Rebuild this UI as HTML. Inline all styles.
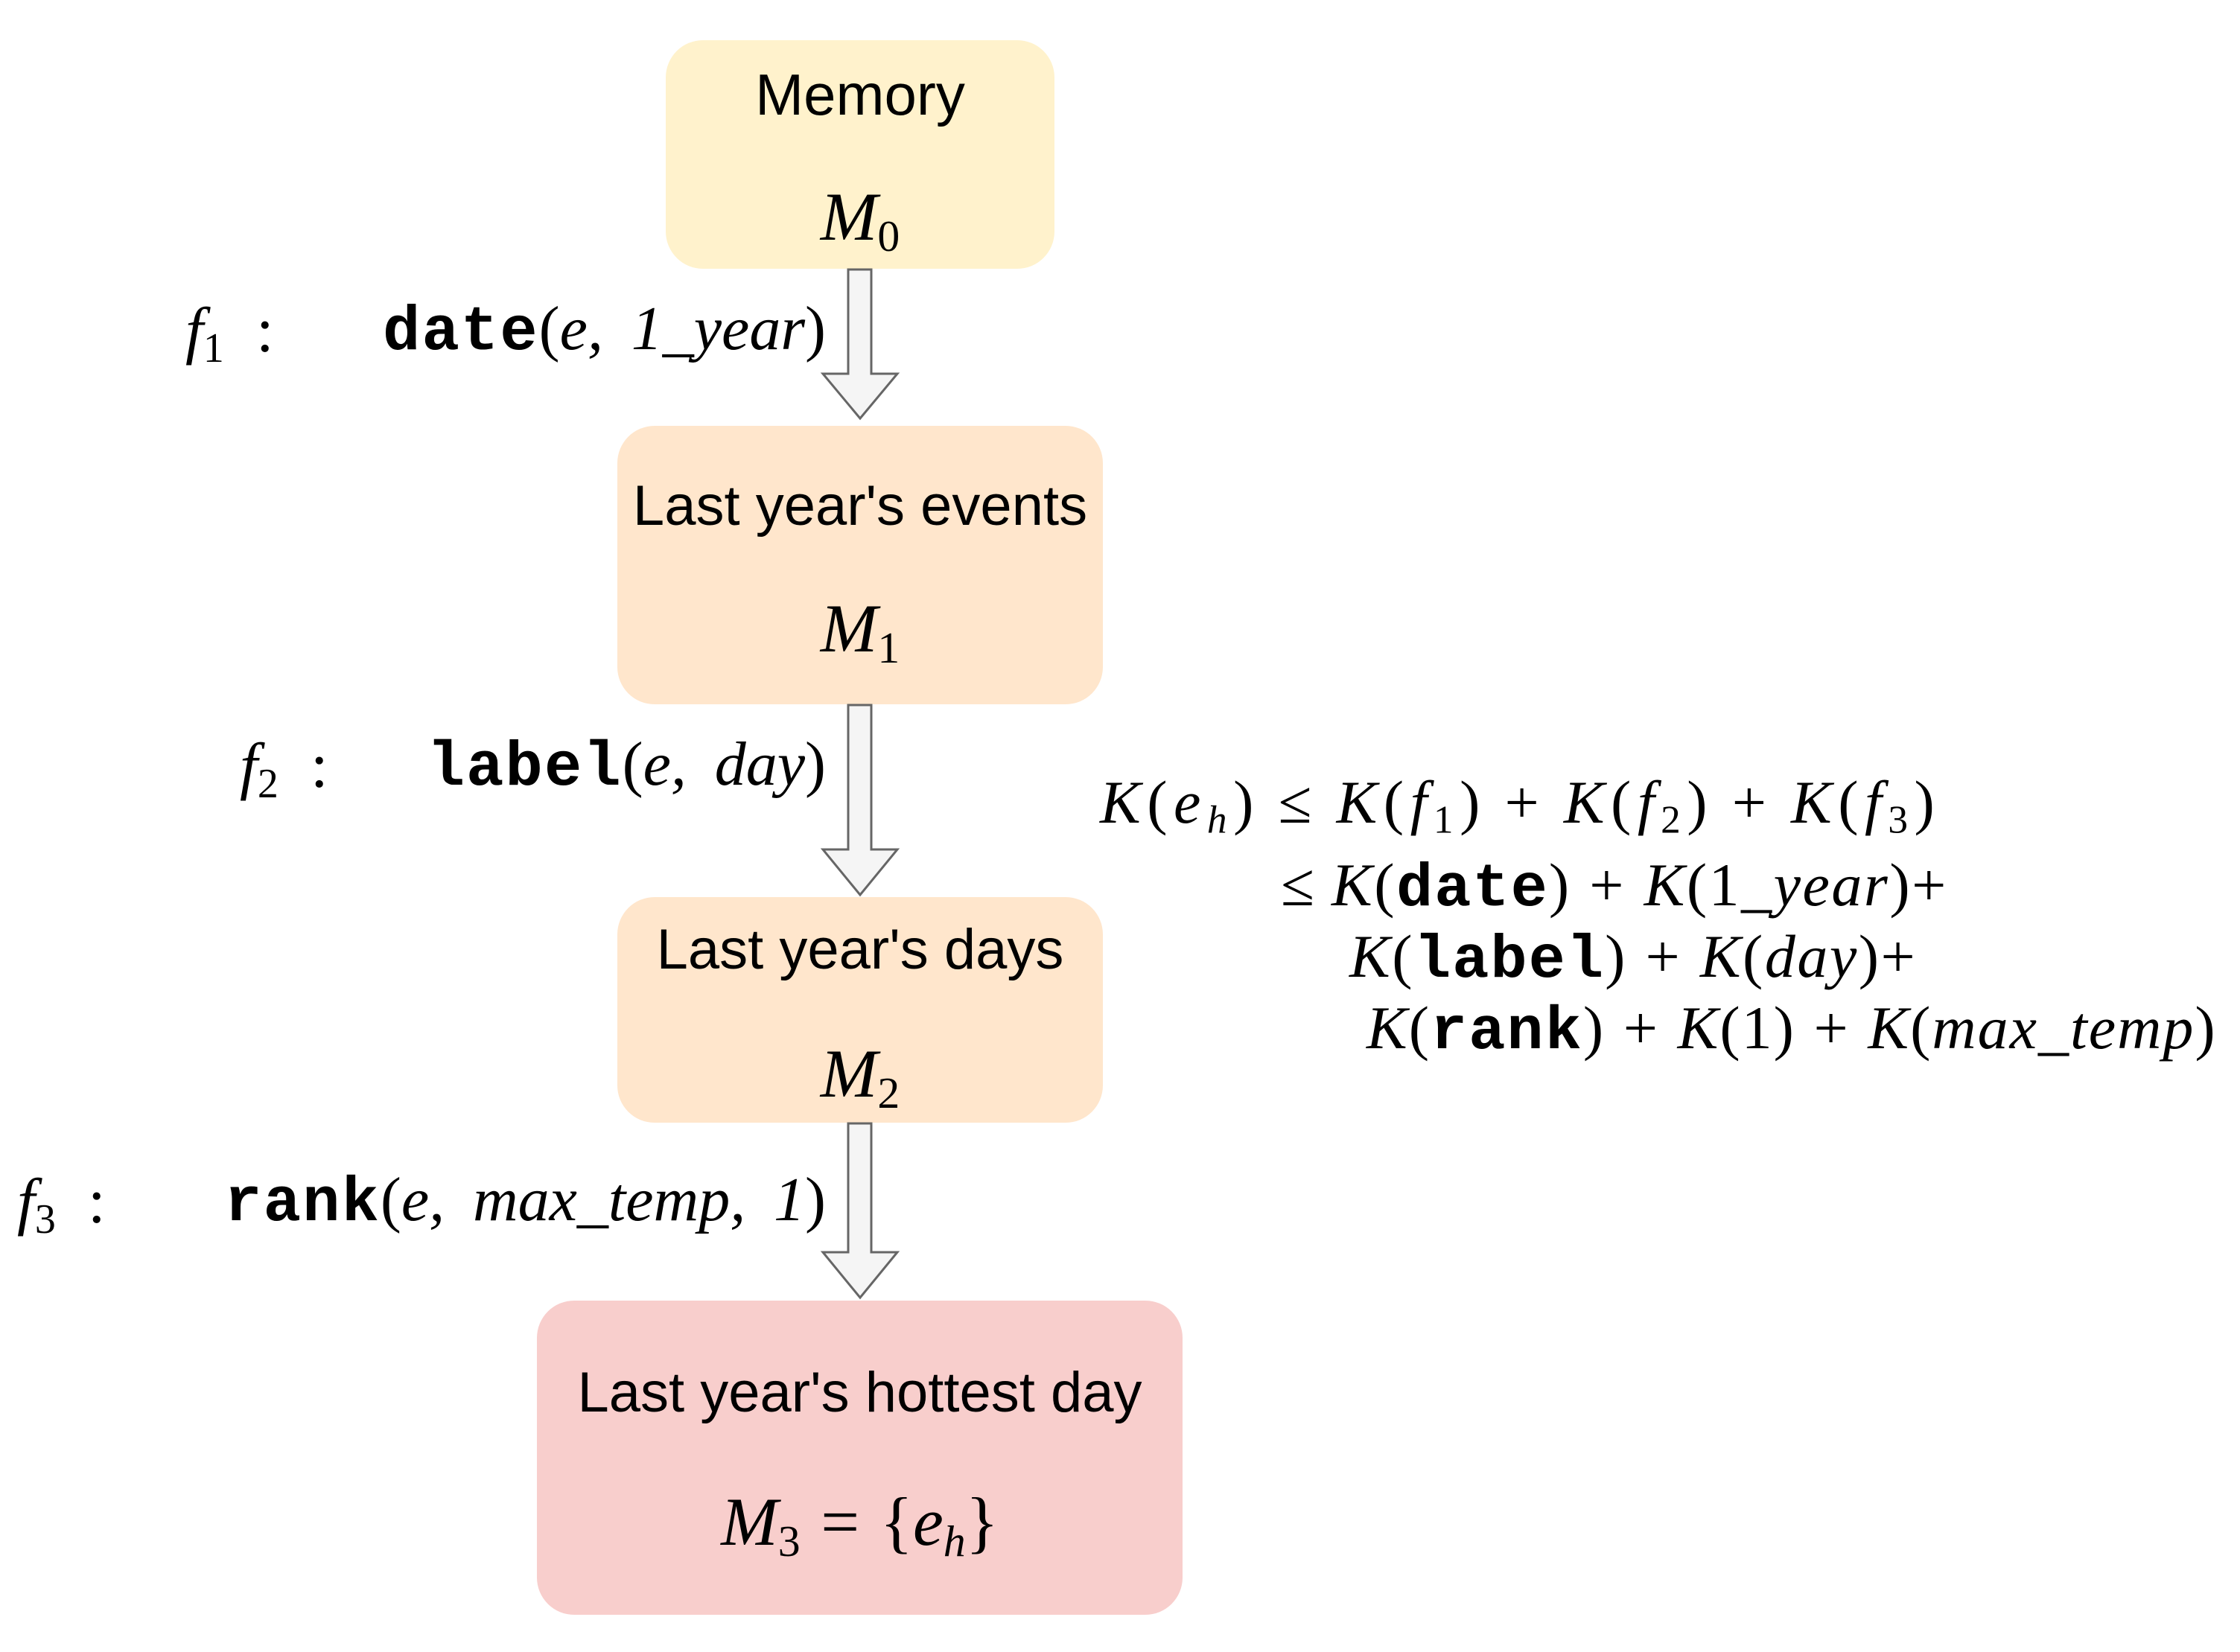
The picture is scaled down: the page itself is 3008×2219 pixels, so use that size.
<!DOCTYPE html>
<html><head><meta charset="utf-8"><style>
html,body{margin:0;padding:0;background:#fff;}
body{width:3008px;height:2219px;position:relative;overflow:hidden;}
.box{position:absolute;border-radius:50px;}
.t{position:absolute;white-space:nowrap;line-height:1;}
.sans{font-family:"Liberation Sans",sans-serif;font-size:76px;color:#000;text-align:center;}
.m{font-family:"Liberation Serif",serif;font-style:italic;}
.r{font-family:"Liberation Serif",serif;font-style:normal;}
.c{font-family:"Liberation Mono",monospace;font-weight:bold;font-style:normal;letter-spacing:2px;}
sub{font-size:65%;vertical-align:-0.25em;font-style:normal;font-family:"Liberation Serif",serif;}
sub.i{font-style:italic;}
.lab{font-size:84px;text-align:right;}
.f{font-size:82px;letter-spacing:2px;}
.o{margin:0 0.3em;font-style:normal;}
.cm{margin-right:0.2em;}
</style></head><body>
<div class="box" style="left:894px;top:54px;width:522px;height:307px;background:#fff2cc;"></div>
<div class="box" style="left:829px;top:572px;width:652px;height:374px;background:#ffe6cc;"></div>
<div class="box" style="left:829px;top:1205px;width:652px;height:303px;background:#ffe6cc;"></div>
<div class="box" style="left:721px;top:1747px;width:867px;height:422px;background:#f8cecc;"></div>

<svg style="position:absolute;left:0;top:0" width="3008" height="2219">
<g fill="#f5f5f5" stroke="#666" stroke-width="3">
<path d="M1139 362 L1170 362 L1170 502 L1205 502 L1155 562 L1105 502 L1139 502 Z"/>
<path d="M1139 947 L1170 947 L1170 1141 L1205 1141 L1155 1202 L1105 1141 L1139 1141 Z"/>
<path d="M1139 1509 L1170 1509 L1170 1682 L1205 1682 L1155 1743 L1105 1682 L1139 1682 Z"/>
</g></svg>

<div class="t sans" style="left:894px;width:522px;top:88px;font-size:78px;">Memory</div>
<div class="t m" style="left:894px;width:522px;top:245px;text-align:center;font-size:92px;">M<sub>0</sub></div>
<div class="t sans" style="left:809px;width:692px;top:642px;">Last year's events</div>
<div class="t m" style="left:829px;width:652px;top:798px;text-align:center;font-size:92px;">M<sub>1</sub></div>
<div class="t sans" style="left:829px;width:652px;top:1238px;">Last year's days</div>
<div class="t m" style="left:829px;width:652px;top:1396px;text-align:center;font-size:92px;">M<sub>2</sub></div>
<div class="t sans" style="left:721px;width:867px;top:1833px;">Last year's hottest day</div>
<div class="t m" style="left:721px;width:867px;top:1998px;text-align:center;font-size:92px;">M<sub>3</sub><span class="o">=</span><span class="r">{</span>e<sub class="i">h</sub><span class="r">}</span></div>

<div class="t m lab" style="left:249px;top:400px;font-size:86px;">f<sub>1</sub>&nbsp;&nbsp;<span class="r">:</span></div>
<div class="t m lab" style="right:1899px;top:400px;">
<span class="c">date</span><span class="r">(</span>e,<span class="cm"></span> 1_year<span class="r">)</span></div>
<div class="t m lab" style="left:322px;top:985px;font-size:86px;">f<sub>2</sub>&nbsp;&nbsp;<span class="r">:</span></div>
<div class="t m lab" style="right:1899px;top:985px;">
<span class="c">label</span><span class="r">(</span>e,<span class="cm"></span> day<span class="r">)</span></div>
<div class="t m lab" style="left:23px;top:1570px;font-size:86px;">f<sub>3</sub>&nbsp;&nbsp;<span class="r">:</span></div>
<div class="t m lab" style="right:1899px;top:1570px;">
<span class="c">rank</span><span class="r">(</span>e,<span class="cm"></span> max_temp,<span class="cm"></span> 1<span class="r">)</span></div>

<div class="t m f" style="left:1477px;top:1037px;letter-spacing:8.5px;">K<span class="r">(</span>e<sub class="i">h</sub><span class="r">)</span><span class="o">≤</span>K<span class="r">(</span>f<sub>1</sub><span class="r">)</span><span class="o">+</span>K<span class="r">(</span>f<sub>2</sub><span class="r">)</span><span class="o">+</span>K<span class="r">(</span>f<sub>3</sub><span class="r">)</span></div>
<div class="t m f" style="left:1720px;top:1148px;letter-spacing:2.5px;"><span class="r" style="margin-right:0.25em">≤</span>K<span class="r">(</span><span class="c">date</span><span class="r">)</span><span class="o">+</span>K<span class="r">(1_</span>year<span class="r">)+</span></div>
<div class="t m f" style="left:1812px;top:1244px;letter-spacing:2.5px;">K<span class="r">(</span><span class="c">label</span><span class="r">)</span><span class="o">+</span>K<span class="r">(</span>day<span class="r">)+</span></div>
<div class="t m f" style="left:1835px;top:1340px;">K<span class="r">(</span><span class="c">rank</span><span class="r">)</span><span class="o">+</span>K<span class="r">(1)</span><span class="o">+</span>K<span class="r">(</span>max_temp<span class="r">)</span></div>
</body></html>
